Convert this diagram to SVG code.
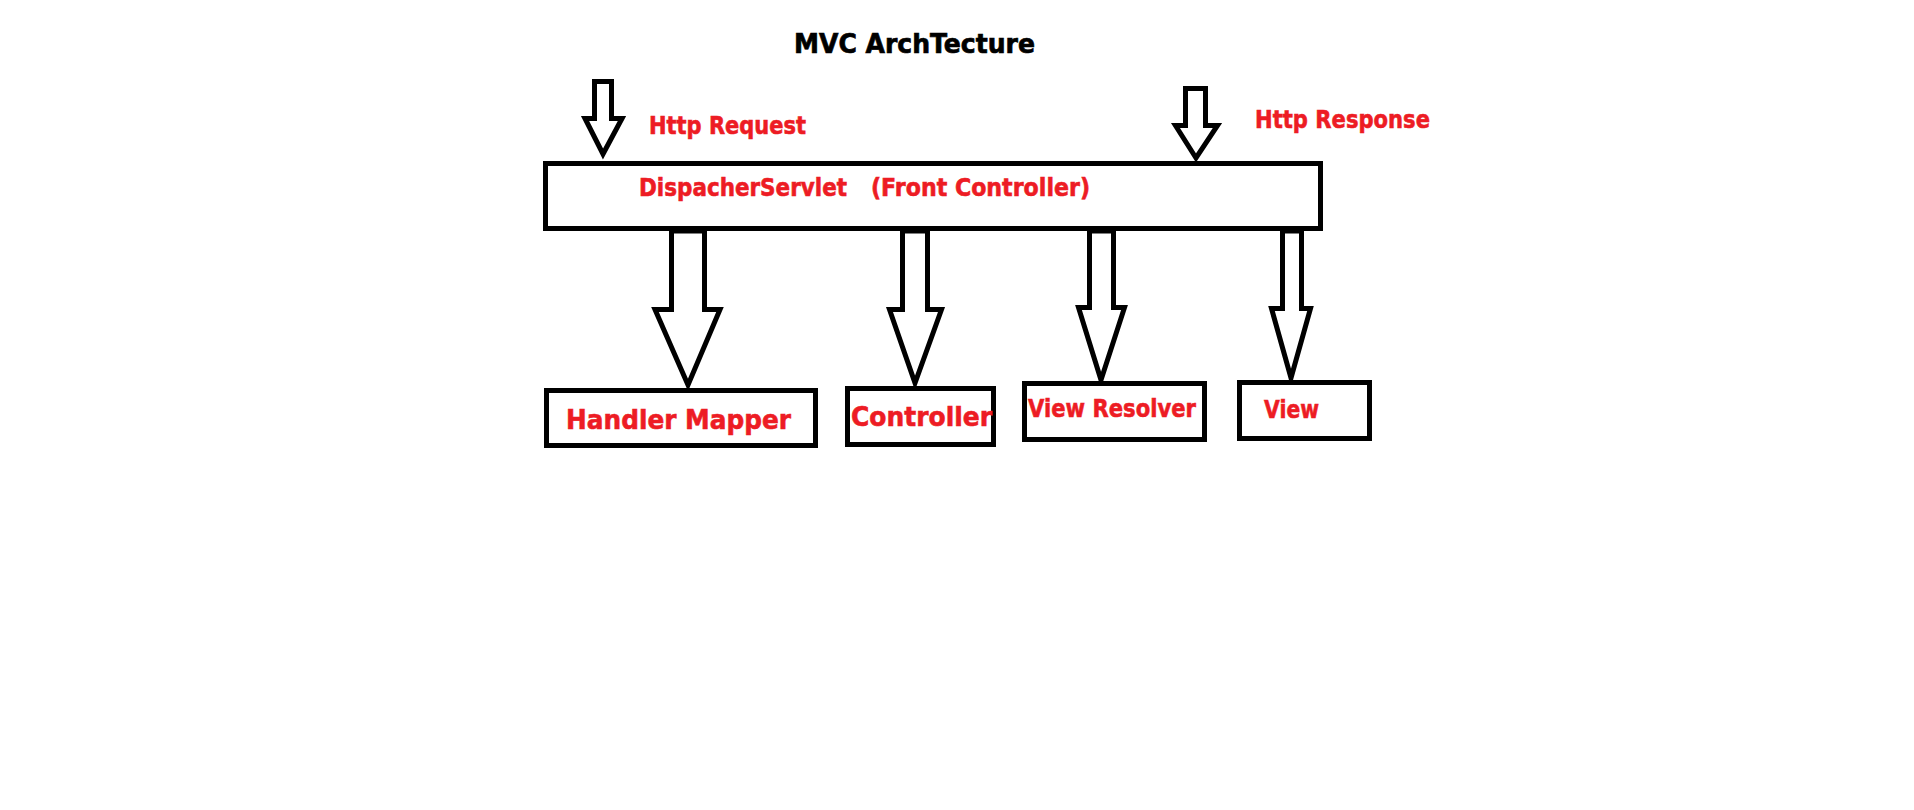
<svg xmlns="http://www.w3.org/2000/svg" width="1914" height="810" viewBox="0 0 1914 810">
<style>
.box{fill:#ffffff;stroke:#000000;stroke-width:5}
.arr{fill:#ffffff;stroke:#000000;stroke-width:5;stroke-linejoin:miter;stroke-miterlimit:6}
.lbl{font-family:"DejaVu Sans",Verdana,sans-serif;font-weight:bold;fill:#ed1c24;stroke:#ed1c24;stroke-width:0.6}
.title{font-family:"DejaVu Sans",Verdana,sans-serif;font-weight:bold;fill:#000000;stroke:#000000;stroke-width:0.7}
</style>
<rect width="1914" height="810" fill="#ffffff"/>
<text class="title" x="794" y="53" font-size="27" textLength="241" lengthAdjust="spacingAndGlyphs">MVC ArchTecture</text>
<g id="connectors">
<polygon class="arr" points="594.5,81.5 611.5,81.5 611.5,118.5 622,118.5 603,154 585,118.5 594.5,118.5"/>
<polygon class="arr" points="1185.5,88.5 1205.5,88.5 1205.5,125.5 1217.5,125.5 1196,158 1175.5,125.5 1185.5,125.5"/>
<polygon class="arr" points="671.5,231 704.5,231 704.5,309.5 720,309.5 688,385 655,309.5 671.5,309.5"/>
<polygon class="arr" points="902.5,231 927.5,231 927.5,309.5 941.5,309.5 915,383 889.5,309.5 902.5,309.5"/>
<polygon class="arr" points="1089.5,231 1113.5,231 1113.5,307.5 1124.5,307.5 1101,380 1078.5,307.5 1089.5,307.5"/>
<polygon class="arr" points="1282.5,231 1301.5,231 1301.5,308.5 1310.5,308.5 1291,378 1271.5,308.5 1282.5,308.5"/>
</g>
<g id="http-request">
<text class="lbl" x="649" y="134" font-size="24" textLength="157" lengthAdjust="spacingAndGlyphs">Http Request</text>
</g>
<g id="http-response">
<text class="lbl" x="1255" y="128" font-size="25" textLength="175" lengthAdjust="spacingAndGlyphs">Http Response</text>
</g>
<g id="dispatcher">
<rect class="box" x="545.5" y="163.5" width="775" height="65"/>
<text class="lbl" y="196" font-size="24"><tspan x="639" textLength="208" lengthAdjust="spacingAndGlyphs">DispacherServlet</tspan><tspan x="871" textLength="219" lengthAdjust="spacingAndGlyphs">(Front Controller)</tspan></text>
</g>
<g id="handler-mapper">
<rect class="box" x="546.5" y="390.5" width="269" height="55"/>
<text class="lbl" x="566" y="429" font-size="27" textLength="225" lengthAdjust="spacingAndGlyphs">Handler Mapper</text>
</g>
<g id="controller">
<rect class="box" x="847.5" y="388.5" width="146" height="56"/>
<text class="lbl" x="851" y="426" font-size="27" textLength="141" lengthAdjust="spacingAndGlyphs">Controller</text>
</g>
<g id="view-resolver">
<rect class="box" x="1024.5" y="383.5" width="180" height="56"/>
<text class="lbl" x="1028" y="417" font-size="25" textLength="168" lengthAdjust="spacingAndGlyphs">View Resolver</text>
</g>
<g id="view">
<rect class="box" x="1239.5" y="382.5" width="130" height="56"/>
<text class="lbl" x="1264" y="418" font-size="25" textLength="55" lengthAdjust="spacingAndGlyphs">View</text>
</g>
</svg>
